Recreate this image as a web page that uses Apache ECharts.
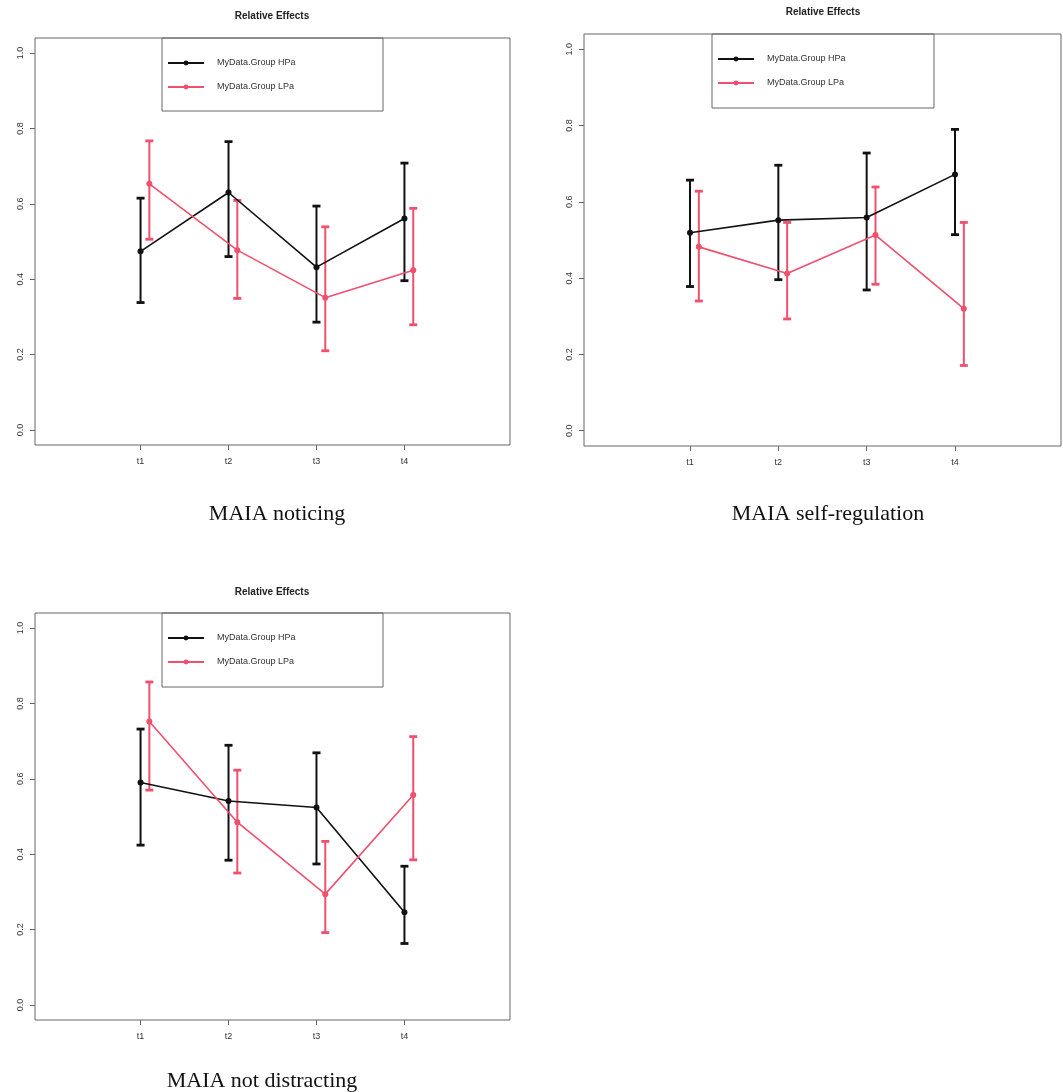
<!DOCTYPE html>
<html>
<head>
<meta charset="utf-8">
<script src="https://cdn.jsdelivr.net/npm/echarts@6/dist/echarts.min.js"></script>
<style>
html,body{margin:0;padding:0;background:#fff;}
#chart{width:1063px;height:1092px;}
</style>
</head>
<body>
<div id="chart"></div>
<script>
// ---------- data ----------
const categories = ['t1', 't2', 't3', 't4'];
const yTickValues = [0, 0.2, 0.4, 0.6, 0.8, 1.0];
const seriesNames = ['MyData.Group HPa', 'MyData.Group LPa'];
const chartTitle = 'Relative Effects';
const panelCaptions = ['MAIA noticing', 'MAIA self-regulation', 'MAIA not distracting'];

// MAIA noticing
const noticingHPaMean  = [0.474, 0.630, 0.432, 0.561];
const noticingHPaLower = [0.338, 0.460, 0.286, 0.396];
const noticingHPaUpper = [0.615, 0.765, 0.594, 0.708];
const noticingLPaMean  = [0.653, 0.477, 0.351, 0.424];
const noticingLPaLower = [0.506, 0.349, 0.210, 0.279];
const noticingLPaUpper = [0.767, 0.609, 0.539, 0.588];

// MAIA self-regulation
const selfregHPaMean  = [0.519, 0.552, 0.559, 0.672];
const selfregHPaLower = [0.378, 0.396, 0.369, 0.514];
const selfregHPaUpper = [0.657, 0.696, 0.728, 0.790];
const selfregLPaMean  = [0.482, 0.412, 0.513, 0.320];
const selfregLPaLower = [0.340, 0.293, 0.384, 0.171];
const selfregLPaUpper = [0.628, 0.546, 0.639, 0.546];

// MAIA not distracting
const notdistHPaMean  = [0.590, 0.541, 0.524, 0.246];
const notdistHPaLower = [0.424, 0.384, 0.374, 0.163];
const notdistHPaUpper = [0.732, 0.689, 0.669, 0.368];
const notdistLPaMean  = [0.752, 0.485, 0.294, 0.557];
const notdistLPaLower = [0.570, 0.350, 0.192, 0.385];
const notdistLPaUpper = [0.857, 0.623, 0.434, 0.712];

// ---------- layout / style ----------
const COLORS = ['#111111', '#F0506E'];
const LPA_OFFSET = 0.1;
const panels = [
  { grid: {left: 35, top: 38, width: 475, height: 407},
    titleXY: [272, 16], captionXY: [277, 514],
    legendBox: [162, 38, 221, 73], legendPos: [167, 58],
    data: [[noticingHPaMean, noticingHPaLower, noticingHPaUpper],
           [noticingLPaMean, noticingLPaLower, noticingLPaUpper]] },
  { grid: {left: 584, top: 34, width: 477, height: 412},
    titleXY: [823, 12], captionXY: [828, 514],
    legendBox: [712, 34, 222, 74], legendPos: [717, 54],
    data: [[selfregHPaMean, selfregHPaLower, selfregHPaUpper],
           [selfregLPaMean, selfregLPaLower, selfregLPaUpper]] },
  { grid: {left: 35, top: 613, width: 475, height: 407},
    titleXY: [272, 592], captionXY: [262, 1081],
    legendBox: [162, 613, 221, 74], legendPos: [167, 633],
    data: [[notdistHPaMean, notdistHPaLower, notdistHPaUpper],
           [notdistLPaMean, notdistLPaLower, notdistLPaUpper]] }
];

const grids = [], xAxes = [], yAxes = [], series = [], legends = [], graphics = [];
const tickXs = categories.map((c, i) => i + 1);

panels.forEach((p, pi) => {
  grids.push(Object.assign({show: true, borderColor: '#666', borderWidth: 1, backgroundColor: 'transparent'}, p.grid));
  xAxes.push({
    gridIndex: pi, type: 'value', min: -0.2, max: 5.2,
    axisLine: {show: false, onZero: false},
    splitLine: {show: false},
    axisTick: {show: true, customValues: tickXs, length: 5, lineStyle: {color: '#666'}},
    axisLabel: {customValues: tickXs, formatter: v => categories[Math.round(v) - 1] || '',
                fontSize: 9, color: '#333', margin: 12, fontFamily: 'Liberation Sans'}
  });
  yAxes.push({
    gridIndex: pi, type: 'value', min: -0.04, max: 1.04,
    axisLine: {show: false, onZero: false},
    splitLine: {show: false},
    axisTick: {show: true, customValues: yTickValues, length: 5, lineStyle: {color: '#666'}},
    axisLabel: {customValues: yTickValues, formatter: v => v.toFixed(1), rotate: 90,
                fontSize: 9, color: '#333', margin: 10, fontFamily: 'Liberation Sans'}
  });

  p.data.forEach((grp, gi) => {
    const [mean, lower, upper] = grp;
    const off = gi === 1 ? LPA_OFFSET : 0;
    const color = COLORS[gi];
    // error bars
    series.push({
      type: 'custom', name: 'ci' + pi + '_' + gi, xAxisIndex: pi, yAxisIndex: pi,
      silent: true, z: 3,
      data: categories.map((c, i) => [i + 1 + off, lower[i], upper[i]]),
      renderItem: (params, api) => {
        const x = api.value(0);
        const lo = api.coord([x, api.value(1)]);
        const hi = api.coord([x, api.value(2)]);
        const hw = 4;
        return {type: 'group', children: [
          {type: 'line', shape: {x1: lo[0], y1: lo[1], x2: hi[0], y2: hi[1]}, style: {stroke: color, lineWidth: 2}},
          {type: 'line', shape: {x1: lo[0] - hw, y1: lo[1], x2: lo[0] + hw, y2: lo[1]}, style: {stroke: color, lineWidth: 2.8}},
          {type: 'line', shape: {x1: hi[0] - hw, y1: hi[1], x2: hi[0] + hw, y2: hi[1]}, style: {stroke: color, lineWidth: 2.8}}
        ]};
      }
    });
    // mean line
    series.push({
      type: 'line', name: seriesNames[gi], xAxisIndex: pi, yAxisIndex: pi, z: 4,
      data: categories.map((c, i) => [i + 1 + off, mean[i]]),
      symbol: 'circle', symbolSize: 6, showSymbol: true,
      lineStyle: {color: color, width: 1.6}, itemStyle: {color: color},
      animation: false
    });
  });

  legends.push({
    data: seriesNames, orient: 'vertical', left: p.legendPos[0], top: p.legendPos[1],
    itemWidth: 36, itemHeight: 6, itemGap: 14, selectedMode: false, padding: 0,
    textStyle: {fontSize: 9, color: '#333', padding: [0, 0, 0, 8], fontFamily: 'Liberation Sans', lineHeight: 10}
  });

  graphics.push({
    type: 'rect', shape: {x: p.legendBox[0], y: p.legendBox[1], width: p.legendBox[2], height: p.legendBox[3]},
    style: {fill: 'transparent', stroke: '#666', lineWidth: 1}, z: 10
  });
  graphics.push({
    type: 'text', x: p.titleXY[0], y: p.titleXY[1],
    style: {text: chartTitle, fontSize: 10, fontWeight: 'bold', fill: '#222', align: 'center', verticalAlign: 'middle', fontFamily: 'Liberation Sans'}
  });
  graphics.push({
    type: 'text', x: p.captionXY[0], y: p.captionXY[1],
    style: {text: panelCaptions[pi], fontSize: 22, fill: '#111', align: 'center', verticalAlign: 'middle', fontFamily: 'Liberation Serif'}
  });
});

const chart = echarts.init(document.getElementById('chart'), null, {renderer: 'canvas'});
chart.setOption({
  backgroundColor: '#fff',
  animation: false,
  grid: grids, xAxis: xAxes, yAxis: yAxes, series: series, legend: legends, graphic: graphics
});
</script>
</body>
</html>
